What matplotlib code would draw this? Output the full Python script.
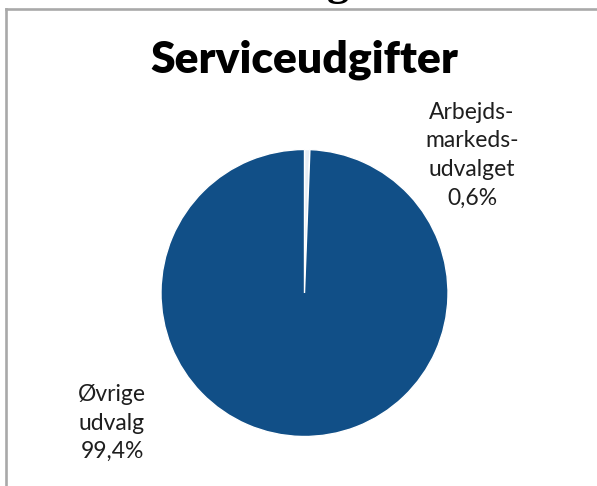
import matplotlib
matplotlib.use("Agg")
import matplotlib.pyplot as plt
from matplotlib.lines import Line2D

# Data
title = "Serviceudgifter"
categories = ["Arbejds-\nmarkeds-\nudvalget", "Øvrige\nudvalg"]
values = [0.6, 99.4]
colors = ["#e6edf5", "#114f87"]

W, H = 597, 486
fig = plt.figure(figsize=(W / 100, H / 100), dpi=100)
fig.patch.set_facecolor("white")

def fx(px):
    return px / W

def fy(py):
    return 1 - py / H

# frame lines (top and left)
fig.add_artist(Line2D([fx(6), fx(597)], [fy(9.5), fy(9.5)], color="#a9a9a9", lw=1.9,
                      transform=fig.transFigure))
fig.add_artist(Line2D([fx(6.2), fx(6.2)], [fy(9.5), fy(486)], color="#a9a9a9", lw=1.9,
                      transform=fig.transFigure))

# partial heading from the page above (only descender visible)
fig.text(fx(338), fy(-5), "g", fontsize=32, fontweight="bold", family="Liberation Serif",
         ha="center", va="baseline", color="black")

# title
fig.text(fx(304), fy(72), title, fontsize=32, fontweight="heavy", family="Lato",
         ha="center", va="baseline", color="black")

# pie
cx, cy, r = 304.5, 293, 143.5
ax = fig.add_axes([fx(cx - r), fy(cy + r), 2 * r / W, 2 * r / H])
ax.pie(values, colors=colors, startangle=90, counterclock=False, radius=1,
       wedgeprops=dict(edgecolor="white", linewidth=1.0))
ax.set_xlim(-1, 1)
ax.set_ylim(-1, 1)
ax.set_aspect("auto")
ax.axis("off")

labels = [f"{c}\n{str(v).replace('.', ',')}%" for c, v in zip(categories, values)]
label_pos = [((472 - cx) / r, (cy - 155) / r), ((112 - cx) / r, (cy - 423) / r)]
for lab, (x, y) in zip(labels, label_pos):
    ax.text(x, y, lab, ha="center", va="center", multialignment="center",
            fontsize=16.5, family="Lato", color="#1e1e1e", linespacing=1.45)

fig.savefig("out.png", dpi=100, facecolor="white")
